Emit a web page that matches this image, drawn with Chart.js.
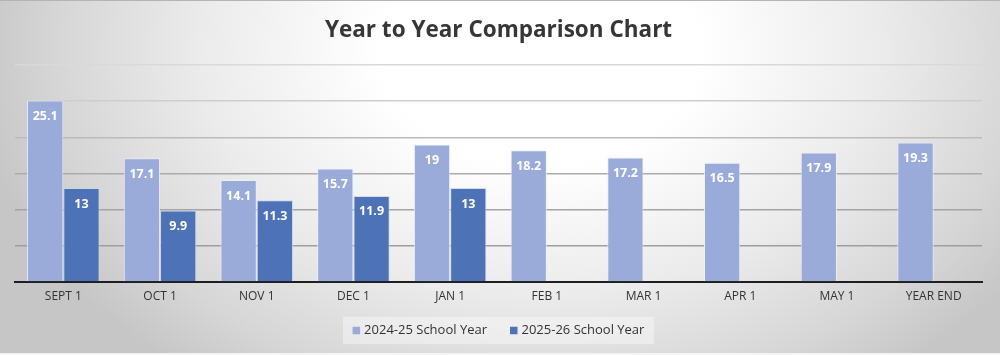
<!DOCTYPE html>
<html>
<head>
<meta charset="utf-8">
<script src="https://cdn.jsdelivr.net/npm/chart.js@4"></script>
<style>
html,body{margin:0;padding:0;background:#fff;}
#wrap{width:1000px;height:355px;position:relative;}
</style>
</head>
<body>
<div id="wrap"><canvas id="c" width="1000" height="355"></canvas></div>
<script>
const categories = ['SEPT 1','OCT 1','NOV 1','DEC 1','JAN 1','FEB 1','MAR 1','APR 1','MAY 1','YEAR END'];
const series2425 = [25.1, 17.1, 14.1, 15.7, 19, 18.2, 17.2, 16.5, 17.9, 19.3];
const series2526 = [13, 9.9, 11.3, 11.9, 13, null, null, null, null, null];
const seriesNames = ['2024-25 School Year', '2025-26 School Year'];
const yTicks = [0, 5, 10, 15, 20, 25, 30];

const FONT = '"Open Sans", "DejaVu Sans", sans-serif';

const bgPlugin = {
  id: 'bg',
  beforeDraw(chart) {
    const ctx = chart.ctx;
    const w = chart.width, h = chart.height;
    ctx.save();
    ctx.translate(540, 50);
    ctx.scale(1, 0.72);
    const g = ctx.createRadialGradient(0, 0, 0, 0, 0, 570);
    g.addColorStop(0, '#ffffff');
    g.addColorStop(0.28, '#ffffff');
    g.addColorStop(0.6, '#ebebeb');
    g.addColorStop(0.85, '#d6d6d6');
    g.addColorStop(1, '#c6c6c6');
    ctx.fillStyle = g;
    ctx.fillRect(-700, -200, 1400, 800);
    ctx.restore();
    ctx.save();
    ctx.fillStyle = '#b4b4b4';
    ctx.fillRect(0, 0, w, 1);
    ctx.fillStyle = '#f4f4f4';
    ctx.fillRect(0, h - 2, w, 2);
    ctx.restore();
  }
};

const legendPlugin = {
  id: 'customLegend',
  afterDraw(chart) {
    const ctx = chart.ctx;
    const cy = 330.5;
    const boxX0 = 343, boxX1 = 654;
    ctx.save();
    ctx.fillStyle = 'rgba(255,255,255,0.38)';
    ctx.fillRect(boxX0, 317, boxX1 - boxX0, 27);
    ctx.font = '13px ' + FONT;
    ctx.textBaseline = 'middle';
    ctx.textAlign = 'left';
    const items = chart.data.datasets.map(ds => ({ text: ds.label, color: ds.backgroundColor }));
    const sq = 7.5, gapText = 4, gapItem = 23;
    let total = 0;
    items.forEach((it, i) => {
      it.tw = ctx.measureText(it.text).width;
      total += sq + gapText + it.tw + (i < items.length - 1 ? gapItem : 0);
    });
    let x = (boxX0 + boxX1) / 2 - total / 2;
    items.forEach(it => {
      ctx.fillStyle = it.color;
      ctx.fillRect(x, cy - sq / 2, sq, sq);
      x += sq + gapText;
      ctx.fillStyle = '#333333';
      ctx.fillText(it.text, x, cy);
      x += it.tw + gapItem;
    });
    ctx.restore();
  }
};

const labelPlugin = {
  id: 'vals',
  afterDatasetsDraw(chart) {
    const ctx = chart.ctx;
    ctx.save();
    ctx.fillStyle = '#ffffff';
    ctx.font = 'bold 12.5px ' + FONT;
    ctx.textAlign = 'center';
    ctx.textBaseline = 'middle';
    chart.data.datasets.forEach((ds, i) => {
      const meta = chart.getDatasetMeta(i);
      meta.data.forEach((bar, j) => {
        const v = ds.data[j];
        if (v === null || v === undefined) return;
        ctx.fillText(String(v), bar.x, bar.y + 16);
      });
    });
    ctx.restore();
  }
};

const gridColors = {30: '#d9d9d9', 25: '#cecece', 20: '#bbbbbb', 15: '#ababab', 10: '#a4a4a4', 5: '#9e9e9e', 0: 'rgba(0,0,0,0)'};

new Chart(document.getElementById('c'), {
  type: 'bar',
  data: {
    labels: categories,
    datasets: [
      {
        label: seriesNames[0],
        data: series2425,
        backgroundColor: '#9aabd9',
        borderColor: 'rgba(235,240,250,0.85)',
        borderWidth: 1
      },
      {
        label: seriesNames[1],
        data: series2526,
        backgroundColor: '#4e72b6',
        borderColor: 'rgba(200,212,236,0.8)',
        borderWidth: 1
      }
    ]
  },
  plugins: [bgPlugin, labelPlugin, legendPlugin],
  options: {
    responsive: false,
    animation: false,
    devicePixelRatio: 1,
    layout: { padding: { left: 15, right: 18, top: 4, bottom: 44.6 } },
    datasets: { bar: { categoryPercentage: 0.75, barPercentage: 1 } },
    plugins: {
      title: {
        display: true,
        text: 'Year to Year Comparison Chart',
        color: '#363636',
        font: { family: FONT, size: 22.5, weight: 'bold' },
        padding: { top: 13, bottom: 21 }
      },
      legend: { display: false },
      tooltip: { enabled: false }
    },
    scales: {
      x: {
        grid: { display: false, drawTicks: false },
        border: { display: true, color: '#1e1e1e', width: 2 },
        ticks: { color: '#333333', font: { family: FONT, size: 12 }, padding: 7, maxRotation: 0 }
      },
      y: {
        min: 0,
        max: 30,
        afterBuildTicks(scale) { scale.ticks = yTicks.map(v => ({ value: v })); },
        ticks: { display: false },
        border: { display: false },
        grid: {
          drawTicks: false,
          lineWidth: 1.5,
          color: (c) => gridColors[c.tick ? c.tick.value : 0] || '#b0b0b0'
        }
      }
    }
  }
});
</script>
</body>
</html>
